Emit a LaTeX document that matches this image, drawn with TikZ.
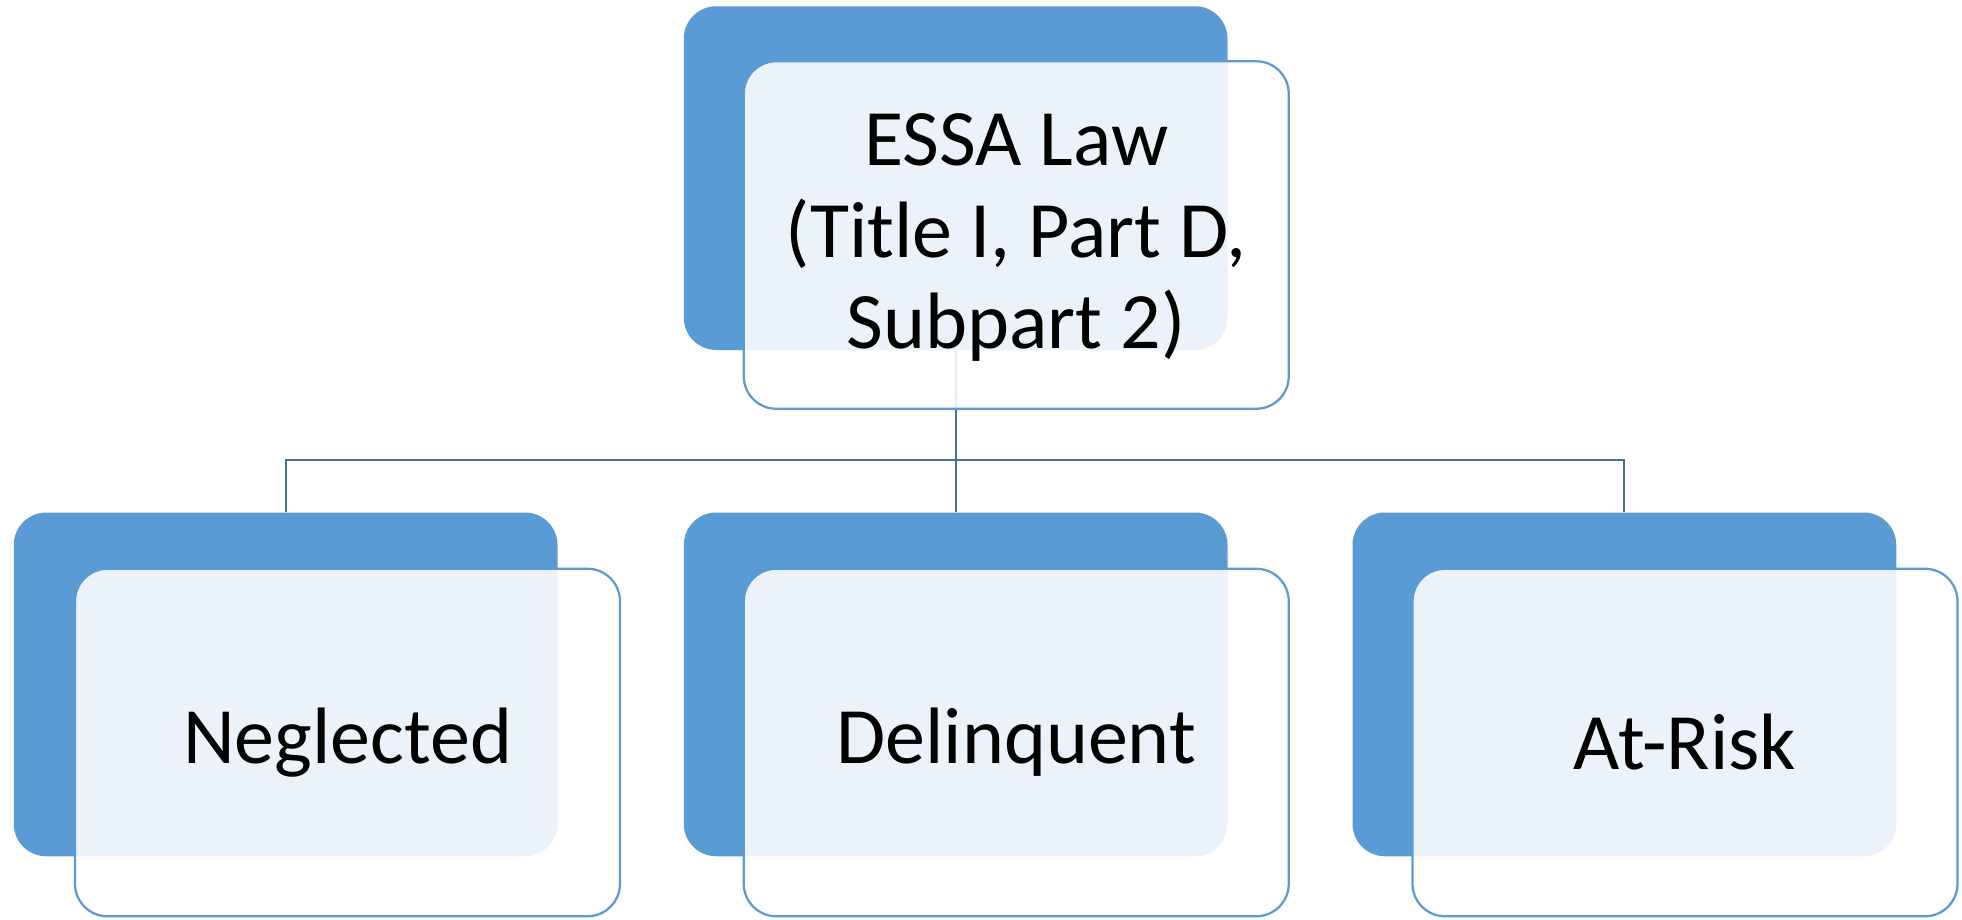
\documentclass[tikz,border=0pt]{standalone}
\usepackage{fontspec}
\setmainfont{Carlito}
\definecolor{backblue}{HTML}{5B9BD5}
\definecolor{connblue}{HTML}{41719C}
\begin{document}
\begin{tikzpicture}[x=0.5pt,y=-0.5pt,
  backbox/.style={draw=none,fill=backblue,rounded corners=13pt,minimum width=217.5pt,minimum height=137.5pt,inner sep=0pt},
  innerbox/.style={draw=backblue,line width=0.9pt,fill=white,fill opacity=0.88,text opacity=1,rounded corners=13pt,minimum width=218pt,minimum height=139pt,inner sep=0pt,align=center,font=\fontsize{32}{36.5}\selectfont},
  conn/.style={draw=connblue,line width=0.85pt}]
\useasboundingbox (0,0) rectangle (1569.6,735.2);
% back boxes
\node[backbox] (tb) at (764.5,142.5) {};
\node[backbox] (lb) at (228.5,547.5) {};
\node[backbox] (mb) at (764.5,547.5) {};
\node[backbox] (rb) at (1299.5,547.5) {};
% connectors
\coordinate (bus) at (764.5,368);
\draw[conn] (tb.south) -- (bus);
\draw[conn] (bus) -| (lb.north);
\draw[conn] (bus) -- (mb.north);
\draw[conn] (bus) -| (rb.north);
% inner boxes
\node[innerbox] (ti) at (813,188) {};
\node[align=center,font=\fontsize{32}{36.5}\selectfont,inner sep=0pt] (tt) at (813,190) {ESSA Law\\(Title I, Part D,\\Subpart 2)};
\node[innerbox] (li) at (278,594) {\raisebox{-1pt}{Neglected}};
\node[innerbox] (mi) at (813,594) {\raisebox{-1pt}{Delinquent}};
\node[innerbox] (ri) at (1348,594) {\raisebox{-1pt}{At-Risk}};
\end{tikzpicture}
\end{document}
